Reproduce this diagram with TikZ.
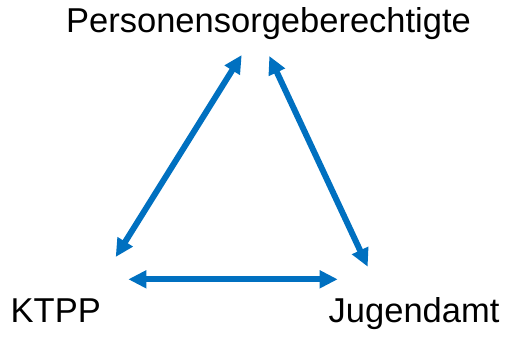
\documentclass[tikz,border=0pt]{standalone}
\usepackage{fontspec}
\setmainfont{Liberation Sans}
\usetikzlibrary{arrows.meta}
\definecolor{arrowblue}{HTML}{0070C0}
\begin{document}
\begin{tikzpicture}[x=1pt,y=-1pt,
  label/.style={inner sep=0pt, anchor=base west, font=\fontsize{34.5}{40}\selectfont},
  link/.style={draw=arrowblue, line width=6pt, {Triangle[length=18pt,width=17pt]}-{Triangle[length=18pt,width=17pt]}}]
\useasboundingbox (0,0) rectangle (505,340);
\node[label] (P) at (66,32) {Personensorgeberechtigte};
\node[label] (K) at (10.5,322) {KTPP};
\node[label] (J) at (328.5,322) {Jugendamt};
\coordinate (a1) at (241.7,55);
\coordinate (a2) at (115.7,257);
\coordinate (b1) at (269.3,56);
\coordinate (b2) at (367.7,266.7);
\coordinate (c1) at (128.3,279.3);
\coordinate (c2) at (337.7,279.3);
\draw[link] (a1) -- (a2);
\draw[link] (b1) -- (b2);
\draw[link] (c1) -- (c2);
\end{tikzpicture}
\end{document}
